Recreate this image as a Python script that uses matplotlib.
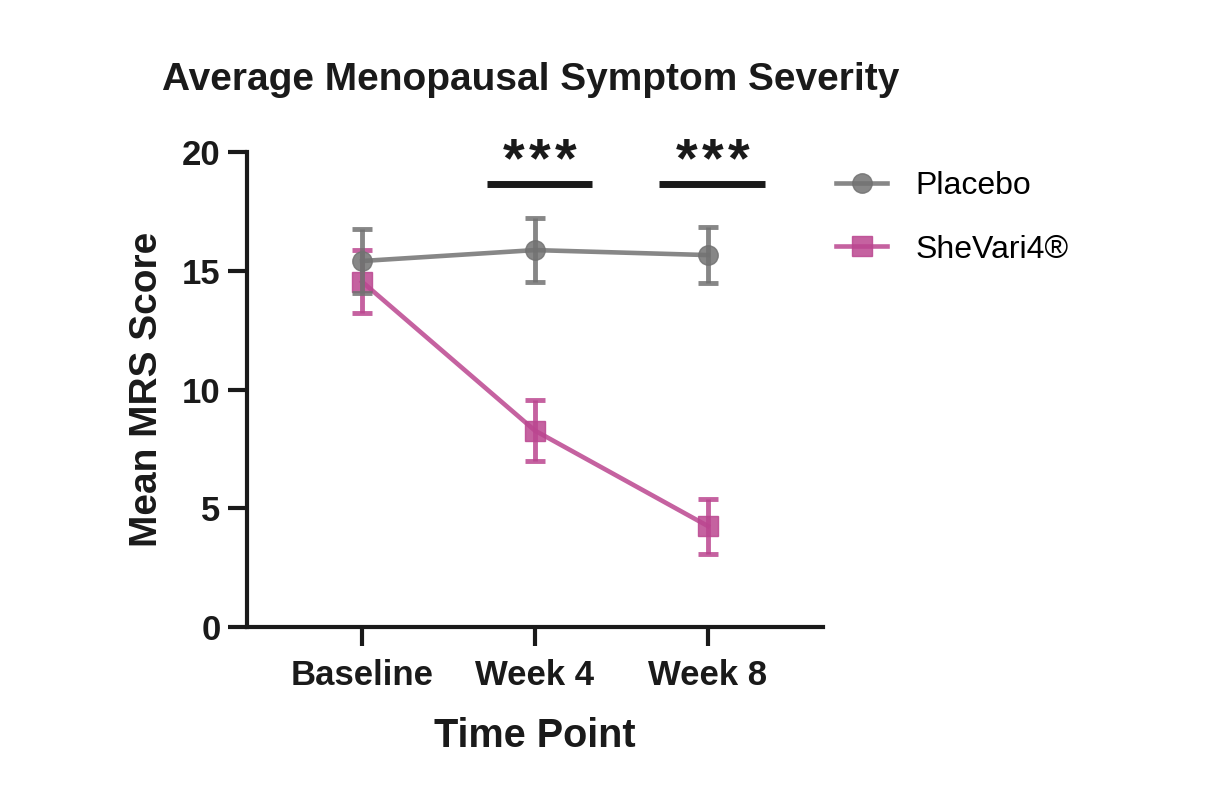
import matplotlib
matplotlib.use('Agg')
from matplotlib import pyplot as plt

timepoints = ['Baseline', 'Week 4', 'Week 8']
placebo_mean = [15.41, 15.87, 15.66]
placebo_sem = [1.35, 1.33, 1.17]
shevari_mean = [14.54, 8.27, 4.25]
shevari_sem = [1.33, 1.28, 1.16]
sig_points = [1, 2]
sig_labels = ['***', '***']

plt.rcParams['font.family'] = ['Liberation Sans', 'DejaVu Sans']

gray = '#727272'
pink = '#bb4690'
ink = '#1a1a1a'

fig = plt.figure(figsize=(12.19, 7.90), dpi=100)
ax = fig.add_axes([0.2026, 0.2063, 0.4725, 0.6013])

x = list(range(len(timepoints)))

ax.errorbar(x, shevari_mean, yerr=shevari_sem, fmt='none', ecolor=pink, alpha=0.85,
            elinewidth=3.5, capsize=7, capthick=3.5, zorder=2)
ax.plot(x, shevari_mean, color=pink, lw=3.3, marker='s', markersize=14, alpha=0.85,
        label='SheVari4®', zorder=3)
ax.errorbar(x, placebo_mean, yerr=placebo_sem, fmt='none', ecolor=gray, alpha=0.85,
            elinewidth=3.5, capsize=7, capthick=3.5, zorder=4)
ax.plot(x, placebo_mean, color=gray, lw=3.3, marker='o', markersize=14, alpha=0.85,
        label='Placebo', zorder=5)

# significance bars, stars spaced a bit wider than the font does
for p, lab in zip(sig_points, sig_labels):
    ax.plot([p - 0.28, p + 0.33], [18.65, 18.65], color=ink, lw=5,
            solid_capstyle='butt', clip_on=False)
    n = len(lab)
    for i, ch in enumerate(lab):
        ax.annotate(ch, xy=(p + 0.025, 18.99), xytext=((i - (n - 1) / 2) * 18.7, 0),
                    textcoords='offset points', ha='center', va='baseline',
                    fontsize=40, fontweight='bold', color=ink, annotation_clip=False)

ax.set_xlim(-0.665, 2.665)
ax.set_ylim(0, 20)
ax.set_xticks(x)
ax.set_xticklabels(timepoints)
ax.set_yticks([0, 5, 10, 15, 20])

for s in ['top', 'right']:
    ax.spines[s].set_visible(False)
for s in ['left', 'bottom']:
    ax.spines[s].set_linewidth(3)
    ax.spines[s].set_color(ink)
ax.tick_params(axis='both', width=3, length=14, color=ink, labelsize=25,
               labelcolor=ink, pad=5)
ax.tick_params(axis='x', pad=9)
for lbl in ax.get_xticklabels() + ax.get_yticklabels():
    lbl.set_fontweight('bold')

ax.set_xlabel('Time Point', fontsize=28.5, fontweight='bold', color=ink, labelpad=18)
ax.set_ylabel('Mean MRS Score', fontsize=28, fontweight='bold', color=ink, labelpad=12)

fig.text(162 / 1219, 1 - 80 / 790, 'Average Menopausal Symptom Severity', fontsize=28,
         fontweight='bold', color=ink, ha='left', va='center')

handles, labels = ax.get_legend_handles_labels()
ax.legend(handles[::-1], labels[::-1], loc='upper left',
          bbox_to_anchor=(836 / 1219, 1 - 171 / 790), bbox_transform=fig.transFigure,
          frameon=False, fontsize=23, handlelength=1.6, handletextpad=0.9,
          labelspacing=1.05, borderpad=0, borderaxespad=0)

fig.savefig('out.png', dpi=100)
